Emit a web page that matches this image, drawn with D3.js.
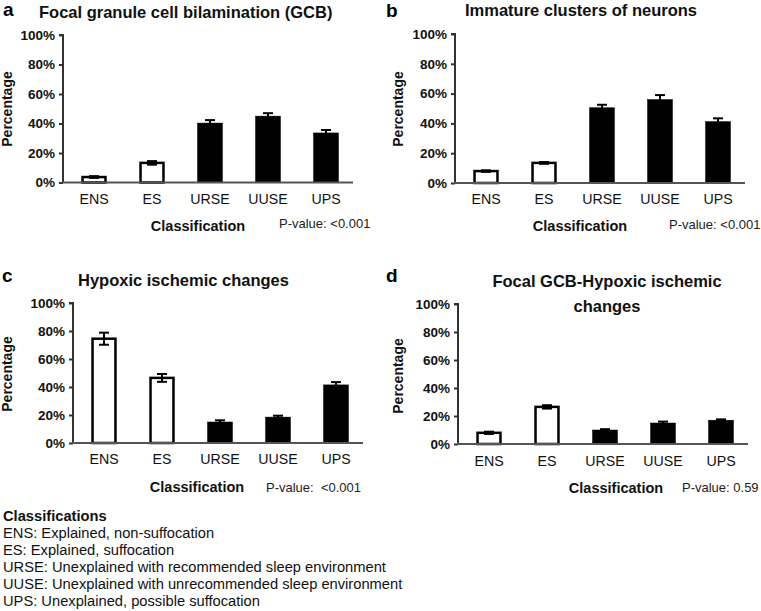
<!DOCTYPE html>
<html>
<head>
<meta charset="utf-8">
<script src="https://cdn.jsdelivr.net/npm/d3@7"></script>
<style>
  html, body { margin: 0; padding: 0; background: #fff; }
  svg { display: block; font-family: "Liberation Sans", Arial, sans-serif; }
  .pre { white-space: pre; }
</style>
</head>
<body>
<svg id="chart" width="761" height="611"></svg>
<script>
// ---- data ----
const categories = ["ENS", "ES", "URSE", "UUSE", "UPS"];
const explainedFlags = [true, true, false, false, false];
const yTickValues = [0, 20, 40, 60, 80, 100];
const yTickLabels = ["0%", "20%", "40%", "60%", "80%", "100%"];

const gcbValues = [3.7, 13.3, 40.3, 45.0, 33.6];
const gcbErrors = [0.6, 1.2, 2.0, 2.0, 2.0];

const clusterValues = [8.0, 13.5, 50.5, 56.0, 41.2];
const clusterErrors = [0.5, 0.6, 2.0, 3.0, 2.2];

const hypoxicValues = [74.5, 46.5, 15.0, 18.5, 41.5];
const hypoxicErrors = [4.3, 2.8, 1.2, 1.0, 2.0];

const comboValues = [8.0, 26.5, 10.0, 15.0, 17.0];
const comboErrors = [0.8, 1.2, 0.6, 1.0, 0.6];

const panelLetters = ["a", "b", "c", "d"];
const panelTitles = [
  ["Focal granule cell bilamination (GCB)"],
  ["Immature clusters of neurons"],
  ["Hypoxic ischemic changes"],
  ["Focal GCB-Hypoxic ischemic", "changes"]
];
const pValueLabels = ["P-value: <0.001", "P-value: <0.001", "P-value:  <0.001", "P-value: 0.59"];
const xAxisTitle = "Classification";
const yAxisTitle = "Percentage";

const legendTitle = "Classifications";
const legendLines = [
  "ENS: Explained, non-suffocation",
  "ES: Explained, suffocation",
  "URSE: Unexplained with recommended sleep environment",
  "UUSE: Unexplained with unrecommended sleep environment",
  "UPS: Unexplained, possible suffocation"
];

const seriesValues = [gcbValues, clusterValues, hypoxicValues, comboValues];
const seriesErrors = [gcbErrors, clusterErrors, hypoxicErrors, comboErrors];

// ---- layout (positions only) ----
const layouts = [
  { x0: 63,  yTop: 35,  yBot: 182.5, letter: [3, 16],    title: [39, 18, "start"],   xLab: 205, xTitle: [198, 231], pval: [279, 228], yTitle: [12, 109] },
  { x0: 455, yTop: 34,  yBot: 183,   letter: [386, 17],  title: [465, 16, "start"],  xLab: 205, xTitle: [580, 231], pval: [669, 229], yTitle: [403, 109] },
  { x0: 73,  yTop: 303, yBot: 443,   letter: [2, 282],   title: [78, 286, "start"],  xLab: 465, xTitle: [197, 492], pval: [266, 492], yTitle: [12, 374] },
  { x0: 458, yTop: 304, yBot: 444,   letter: [386, 282], title: [607, 287, "middle"], xLab: 467, xTitle: [616, 493], pval: [682, 492], yTitle: [403, 376] }
];

const svg = d3.select("#chart");
const axisColor = "#333";

layouts.forEach((L, i) => {
  const g = svg.append("g");
  const values = seriesValues[i];
  const errors = seriesErrors[i];
  const data = categories.map((c, k) => ({ cat: c, v: values[k], e: errors[k], white: explainedFlags[k] }));

  const x = d3.scaleBand().domain(categories)
    .range([L.x0 + 2, L.x0 + 292]).paddingInner(0.57).paddingOuter(0.285);
  const y = d3.scaleLinear().domain([0, 100]).range([L.yBot, L.yTop]);

  // y axis
  const yAxis = d3.axisLeft(y).tickValues(yTickValues)
    .tickFormat((d, k) => yTickLabels[k]).tickSize(4).tickPadding(4);
  const ya = g.append("g").attr("transform", `translate(${L.x0},0)`).call(yAxis);
  ya.select(".domain").attr("stroke", axisColor).attr("stroke-width", 2)
    .attr("d", `M-4,${L.yTop}H0V${L.yBot}`);
  ya.selectAll(".tick line").attr("stroke", axisColor).attr("stroke-width", 2);
  ya.selectAll(".tick text").attr("font-size", 13.5).attr("font-weight", "bold")
    .attr("fill", "#111").attr("font-family", "Liberation Sans, Arial, sans-serif");

  // bars
  g.selectAll("rect.bar").data(data).join("rect")
    .attr("class", "bar")
    .attr("x", d => x(d.cat) + (d.white ? 1 : 0))
    .attr("width", d => x.bandwidth() - (d.white ? 2 : 0))
    .attr("y", d => y(d.v))
    .attr("height", d => y(0) - y(d.v))
    .attr("fill", d => d.white ? "#fff" : "#000")
    .attr("stroke", "#000")
    .attr("stroke-width", d => d.white ? 2.5 : 0.5);

  // error bars
  const eb = g.selectAll("g.err").data(data).join("g").attr("class", "err");
  const cx = d => x(d.cat) + x.bandwidth() / 2;
  eb.append("line").attr("x1", cx).attr("x2", cx)
    .attr("y1", d => y(d.v + d.e)).attr("y2", d => y(d.v - d.e))
    .attr("stroke", "#000").attr("stroke-width", 2);
  eb.append("line").attr("x1", d => cx(d) - 5).attr("x2", d => cx(d) + 5)
    .attr("y1", d => y(d.v + d.e)).attr("y2", d => y(d.v + d.e))
    .attr("stroke", "#000").attr("stroke-width", 2);
  eb.append("line").attr("x1", d => cx(d) - 5).attr("x2", d => cx(d) + 5)
    .attr("y1", d => y(d.v - d.e)).attr("y2", d => y(d.v - d.e))
    .attr("stroke", "#000").attr("stroke-width", 2);

  // x axis baseline
  g.append("line").attr("x1", L.x0 - 1).attr("x2", L.x0 + 290)
    .attr("y1", y(0)).attr("y2", y(0))
    .attr("stroke", "#555").attr("stroke-width", 1.8);

  // x category labels
  const xAxis = d3.axisBottom(x).tickSize(0).tickPadding(0);
  const xa = g.append("g").attr("transform", `translate(0,${L.xLab - 11})`).call(xAxis);
  xa.select(".domain").remove();
  xa.selectAll(".tick text").attr("font-size", 14.2).attr("fill", "#111")
    .attr("font-family", "Liberation Sans, Arial, sans-serif").attr("dy", "0.71em");

  // texts
  g.append("text").attr("x", L.letter[0]).attr("y", L.letter[1])
    .attr("font-size", 19).attr("font-weight", "bold").text(panelLetters[i]);
  panelTitles[i].forEach((t, k) => {
    g.append("text").attr("x", L.title[0]).attr("y", L.title[1] + k * 25)
      .attr("text-anchor", L.title[2])
      .attr("font-size", 16.5).attr("font-weight", "bold").attr("fill", "#111").text(t);
  });
  g.append("text").attr("x", L.xTitle[0]).attr("y", L.xTitle[1])
    .attr("text-anchor", "middle").attr("font-size", 14.5).attr("font-weight", "bold")
    .attr("fill", "#111").text(xAxisTitle);
  g.append("text").attr("class", "pre").attr("x", L.pval[0]).attr("y", L.pval[1])
    .attr("font-size", 13).attr("fill", "#222").text(pValueLabels[i]);
  g.append("text")
    .attr("transform", `translate(${L.yTitle[0]},${L.yTitle[1]}) rotate(-90)`)
    .attr("text-anchor", "middle").attr("font-size", 14).attr("font-weight", "bold")
    .attr("fill", "#111").text(yAxisTitle);
});

// legend
const leg = svg.append("g");
leg.append("text").attr("x", 3).attr("y", 521).attr("font-size", 14.7)
  .attr("font-weight", "bold").attr("fill", "#111").text(legendTitle);
legendLines.forEach((t, k) => {
  leg.append("text").attr("x", 3).attr("y", 537.5 + k * 17.2)
    .attr("font-size", 14.7).attr("fill", "#111").text(t);
});
</script>
</body>
</html>
